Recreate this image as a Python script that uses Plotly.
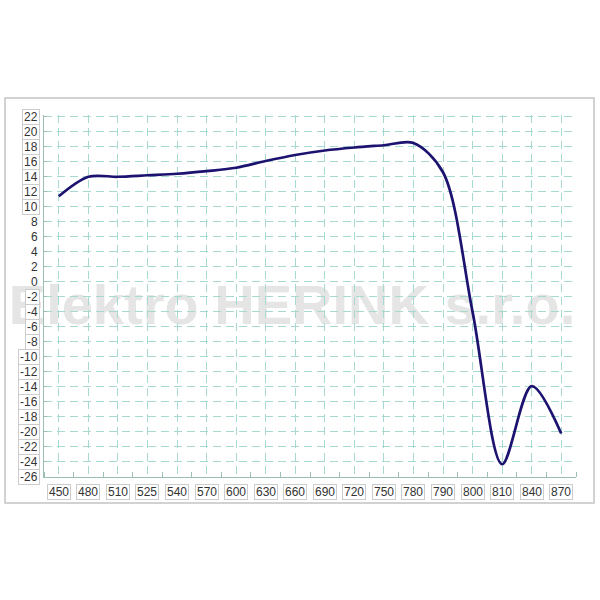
import plotly.graph_objects as go

# ---- data ----
wavelengths = ["450", "480", "510", "525", "540", "570", "600", "630", "660",
               "690", "720", "750", "780", "790", "800", "810", "840", "870"]
values = [11.4, 14.0, 14.0, 14.2, 14.4, 14.75, 15.2, 16.1, 16.9,
          17.5, 17.9, 18.2, 18.5, 14.6, -4.0, -24.3, -13.9, -20.2]
y_tick_labels = [22, 20, 18, 16, 14, 12, 10, 8, 6, 4, 2, 0, -2, -4, -6, -8,
                 -10, -12, -14, -16, -18, -20, -22, -24, -26]
watermark = "Elektro HERINK s.r.o."

positions = list(range(len(wavelengths)))

W, H = 600, 600
L, R, T, B = 44, 24, 115, 123
pw, ph = W - L - R, H - T - B

def px_x(p):
    return (p - L) / pw

def px_y(p):
    return (H - B - p) / ph

FONT = "Liberation Sans, Arial, sans-serif"
GRID = "#a6d9cf"
AXIS = "#9dbdb7"

fig = go.Figure()
fig.add_trace(go.Scatter(
    x=positions, y=values, mode="lines",
    line=dict(color="#1c1270", width=2.7, shape="spline", smoothing=0.9),
    hoverinfo="skip", showlegend=False,
))

annotations = []
# y tick labels in boxes
for v in y_tick_labels:
    s = str(v)
    boxed = len(s) > 1
    annotations.append(dict(
        x=px_x(40), xref="paper", y=v, yref="y", text=s,
        xanchor="right", yanchor="middle", showarrow=False,
        font=dict(family=FONT, size=12, color="#333333"),
        bordercolor="#cccccc" if boxed else "rgba(0,0,0,0)",
        borderwidth=1, borderpad=1, bgcolor="white" if boxed else "rgba(0,0,0,0)",
        height=12,
    ))
# x tick labels in boxes
for p, lab in zip(positions, wavelengths):
    annotations.append(dict(
        x=p, xref="x", y=px_y(492), yref="paper", text=lab,
        xanchor="center", yanchor="middle", showarrow=False,
        font=dict(family=FONT, size=12, color="#333333"),
        bordercolor="#cccccc", borderwidth=1, borderpad=1, bgcolor="white",
        height=12,
    ))

shapes = [
    # outer frame
    dict(type="rect", xref="paper", yref="paper",
         x0=px_x(5), x1=px_x(594), y0=px_y(503), y1=px_y(98),
         line=dict(color="#c4c4c4", width=1.5), layer="below"),
    # watermark
    dict(type="rect", xref="paper", yref="paper",
         x0=px_x(292) - 0.3, x1=px_x(292) + 0.3,
         y0=px_y(323), y1=px_y(275),
         line=dict(width=0, color="rgba(0,0,0,0)"), fillcolor="rgba(0,0,0,0)",
         layer="below",
         label=dict(text=watermark, textposition="middle center",
                    font=dict(family=FONT, size=56, color="#e5e5e5", weight="bold"))),
]

fig.update_layout(
    width=W, height=H,
    margin=dict(l=L, r=R, t=T, b=B),
    paper_bgcolor="white", plot_bgcolor="rgba(0,0,0,0)",
    annotations=annotations, shapes=shapes,
    xaxis=dict(
        range=[-0.5, len(wavelengths) - 0.5],
        tickvals=positions, ticktext=wavelengths, showticklabels=False,
        ticks="", showgrid=True, gridcolor=GRID, gridwidth=1, griddash="8px,5px",
        zeroline=False, showline=True, linecolor=AXIS, linewidth=1,
        minor=dict(tick0=0.5, dtick=1, ticks="inside", ticklen=5,
                   tickcolor=AXIS, showgrid=False),
    ),
    yaxis=dict(
        range=[-26, 22.23],
        tickvals=y_tick_labels, showticklabels=False,
        ticks="inside", ticklen=3, tickcolor=AXIS,
        showgrid=True, gridcolor=GRID, gridwidth=1, griddash="8px,5px",
        zeroline=False, showline=True, linecolor=AXIS, linewidth=1,
    ),
)

fig.write_html("out.html", config={"displayModeBar": False},
               post_script="document.body.style.margin='0';")
